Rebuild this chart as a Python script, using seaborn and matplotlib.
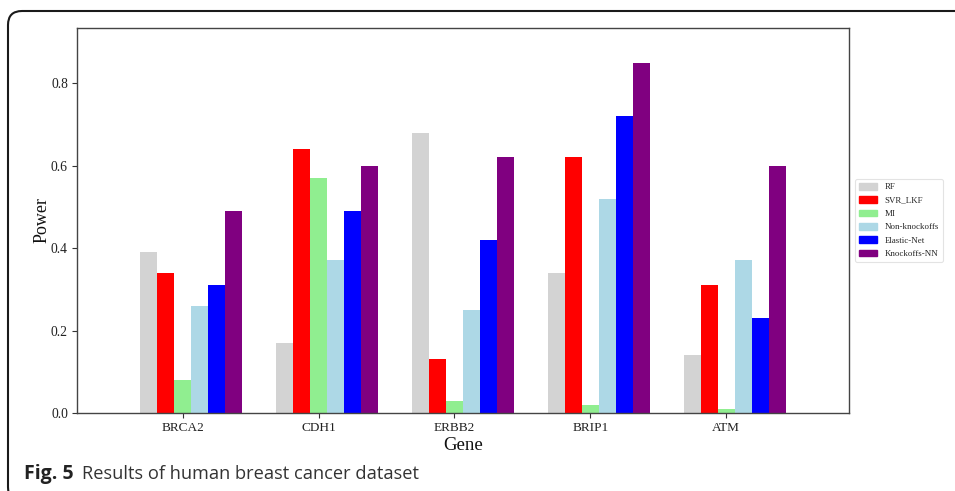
import numpy as np
import pandas as pd
import seaborn as sns
import matplotlib
matplotlib.use("Agg")
import matplotlib.pyplot as plt
from matplotlib.patches import FancyBboxPatch

genes = ["BRCA2", "CDH1", "ERBB2", "BRIP1", "ATM"]
methods = ["RF", "SVR_LKF", "MI", "Non-knockoffs", "Elastic-Net", "Knockoffs-NN"]
colors = ["lightgray", "red", "lightgreen", "lightblue", "blue", "purple"]

rf = [0.39, 0.17, 0.68, 0.34, 0.14]
svr_lkf = [0.34, 0.64, 0.13, 0.62, 0.31]
mi = [0.08, 0.57, 0.03, 0.02, 0.01]
non_knockoffs = [0.26, 0.37, 0.25, 0.52, 0.37]
elastic_net = [0.31, 0.49, 0.42, 0.72, 0.23]
knockoffs_nn = [0.49, 0.60, 0.62, 0.85, 0.60]

series = [rf, svr_lkf, mi, non_knockoffs, elastic_net, knockoffs_nn]
rows = []
for m, vals in zip(methods, series):
    for i, (g, v) in enumerate(zip(genes, vals)):
        rows.append({"gene": g, "pos": i + 0.0625, "method": m, "value": v})
df = pd.DataFrame(rows)

sns.set_theme(style="white")
plt.rcParams["font.family"] = ["Liberation Serif", "DejaVu Serif"]

fig = plt.figure(figsize=(9.55, 4.91), dpi=100)
ax = fig.add_axes([0.0806, 0.1589, 0.8084, 0.7841])

sns.barplot(data=df, x="pos", y="value", hue="method", hue_order=methods,
            palette=colors, native_scale=True, width=0.75, dodge=True,
            saturation=1, errorbar=None, ax=ax, legend=False, linewidth=0)

ax.set_xlim(-0.78, 4.905)
ax.set_ylim(0, 0.934)
ax.set_xticks(range(len(genes)))
ax.set_xticklabels(genes, fontsize=9.5)
ax.set_yticks([0.0, 0.2, 0.4, 0.6, 0.8])
ax.set_yticklabels(["0.0", "0.2", "0.4", "0.6", "0.8"], fontsize=9.8)
ax.tick_params(axis="both", direction="out", length=3.5, width=0.8,
               color="#333333", labelcolor="#222222", pad=3, bottom=True, left=True)
ax.set_xlabel("Gene", fontsize=13.5, color="#111111", labelpad=2)
ax.set_ylabel("Power", fontsize=13, color="#111111", labelpad=0)
for s in ax.spines.values():
    s.set_color("#444444")
    s.set_linewidth(1.0)

handles = [plt.Rectangle((0, 0), 1, 1, color=c) for c in colors]
leg = ax.legend(handles, methods, loc="center left", bbox_to_anchor=(1.004, 0.5),
                fontsize=6.4, frameon=True, handlelength=2.1, handleheight=0.8,
                labelspacing=0.55, borderpad=0.45, handletextpad=0.8,
                borderaxespad=0.3)
leg.get_frame().set_edgecolor("#dddddd")
leg.get_frame().set_linewidth(0.8)

# journal figure frame
frame = FancyBboxPatch((8, -10), 980, 490, boxstyle="round,pad=0,rounding_size=14",
                       transform=None, fill=False, edgecolor="#1a1a1a", linewidth=1.5,
                       clip_on=False)
fig.patches.append(frame)

fig.text(24 / 955, 1 - 474 / 491, "Fig. 5", fontsize=14, fontweight="bold",
         family=["Open Sans", "DejaVu Sans"], color="#222222", va="center", ha="left")
fig.text(82 / 955, 1 - 474 / 491, "Results of human breast cancer dataset", fontsize=13.15,
         family=["Open Sans", "DejaVu Sans"], color="#333333", va="center", ha="left")

fig.savefig("out.png", dpi=100)
